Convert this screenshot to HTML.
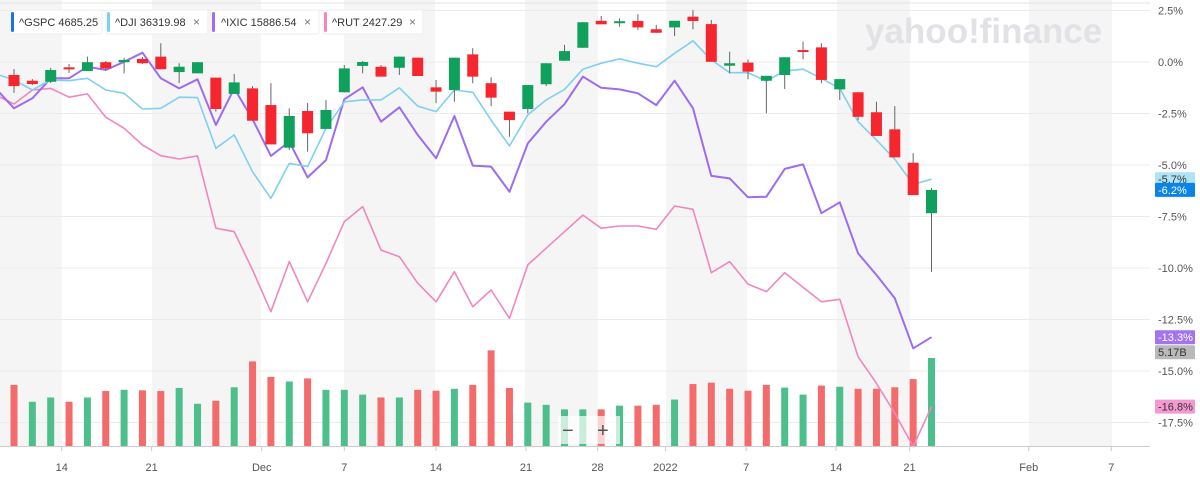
<!DOCTYPE html>
<html><head><meta charset="utf-8"><style>
html,body{margin:0;padding:0;background:#fff;}
body{width:1200px;height:477px;overflow:hidden;font-family:"Liberation Sans",sans-serif;}
svg text{font-family:"Liberation Sans",sans-serif;}
</style></head><body>
<svg id="chart" width="1200" height="477" viewBox="0 0 1200 477" xmlns="http://www.w3.org/2000/svg">
<g id="bands"></g><g id="grid"></g>
<text x="865" y="43" font-size="35" font-weight="bold" fill="#e2e2e6">yahoo!finance</text>
<g id="vol"></g><g id="lines"></g><g id="candles"></g><g id="axes"></g><g id="tags"></g>
<g>
 <g><rect x="10" y="10" width="92" height="24" rx="2" fill="#fff" stroke="#eee"/><rect x="11" y="12" width="3" height="20" rx="1.5" fill="#1a73e8"/><text x="19" y="26" font-size="11" fill="#333">^GSPC  4685.25</text></g>
 <g><rect x="106" y="10" width="102" height="24" rx="2" fill="#fff" stroke="#eee"/><rect x="107" y="12" width="3" height="20" rx="1.5" fill="#7fd0f0"/><text x="115" y="26" font-size="11" fill="#333">^DJI  36319.98</text><text x="193" y="26" font-size="12" fill="#777">×</text></g>
 <g><rect x="211" y="10" width="108" height="24" rx="2" fill="#fff" stroke="#eee"/><rect x="212" y="12" width="3" height="20" rx="1.5" fill="#9d6cf0"/><text x="221" y="26" font-size="11" fill="#333">^IXIC  15886.54</text><text x="304" y="26" font-size="12" fill="#777">×</text></g>
 <g><rect x="323" y="10" width="100" height="24" rx="2" fill="#fff" stroke="#eee"/><rect x="324" y="12" width="3" height="20" rx="1.5" fill="#ef87c0"/><text x="332" y="26" font-size="11" fill="#333">^RUT  2427.29</text><text x="409" y="26" font-size="12" fill="#777">×</text></g>
</g>
<g>
 <rect x="558" y="416" width="62" height="28" fill="#ffffff" opacity="0.7"/>
 <text x="562" y="437" font-size="20" fill="#555">−</text>
 <text x="597" y="437" font-size="20" fill="#555">+</text>
</g>
</svg>
<script>
const ticks=[2.5,0,-2.5,-5,-7.5,-10,-12.5,-15,-17.5];
const tickLabels=["2.5%","0.0%","-2.5%","-5.0%","-7.5%","-10.0%","-12.5%","-15.0%","-17.5%"];
const xLabels=["14","21","Dec","7","14","21","28","2022","7","14","21","Feb","7"];
const xLabelIdx=[2.6,7.5,13.5,18,23,27.9,31.8,35.5,39.9,44.8,48.8,55.3,59.8];
const gOpen=[-0.63,-0.91,-0.96,-0.26,-0.44,-0.01,-0.01,0.15,0.26,-0.49,-0.55,-0.76,-1.55,-1.28,-2.09,-4.16,-2.38,-3.25,-1.47,-0.19,-0.23,-0.28,0.21,-1.23,-1.36,0.37,-1.03,-2.41,-2.28,-1.08,0.06,0.69,2.00,1.91,1.99,1.59,1.68,2.20,1.84,-0.18,-0.03,-0.91,-0.63,0.58,0.71,-1.33,-1.47,-2.44,-3.27,-4.89,-7.34];
const gClose=[-1.17,-1.07,-0.39,-0.35,-0.01,-0.31,0.10,-0.06,-0.35,-0.23,-0.01,-2.28,-0.99,-2.85,-4.00,-2.62,-3.46,-2.33,-0.31,0.00,-0.71,0.26,-0.68,-1.44,0.21,-0.71,-1.73,-2.82,-1.12,-0.06,0.53,1.93,1.83,1.98,1.68,1.42,2.00,1.99,0.01,-0.06,-0.47,-0.67,0.23,0.49,-0.87,-0.83,-2.66,-3.59,-4.63,-6.46,-6.21];
const gHigh=[-0.34,-0.83,-0.29,-0.10,0.26,0.05,0.19,0.24,0.91,-0.06,0.00,-0.76,-0.58,-1.17,-1.03,-2.25,-1.99,-1.84,-0.15,0.05,-0.15,0.26,0.21,-0.87,0.21,0.67,-0.74,-2.41,-1.12,-0.06,0.83,1.93,2.23,2.12,2.32,1.80,2.00,2.52,2.04,0.50,0.13,-0.67,0.23,0.99,0.91,-0.83,-1.47,-1.93,-2.14,-4.43,-6.12];
const gLow=[-1.50,-1.12,-1.02,-0.53,-0.44,-0.39,-0.55,-0.10,-0.35,-1.03,-0.55,-2.41,-1.55,-2.86,-4.00,-4.27,-4.35,-3.25,-1.47,-0.55,-0.71,-0.63,-0.68,-2.00,-1.93,-1.03,-2.14,-3.63,-2.49,-1.17,0.06,0.69,1.83,1.71,1.55,1.42,1.26,1.59,0.01,-0.55,-0.84,-2.49,-1.31,0.13,-1.03,-1.84,-2.82,-3.59,-4.63,-6.46,-10.18];
// line series start one day before first candle (index -1)
const dji=[-0.58,-0.87,-1.36,-0.87,-0.91,-0.79,-1.36,-1.52,-2.28,-2.25,-1.71,-1.73,-4.19,-3.54,-5.33,-6.62,-4.92,-5.08,-3.22,-1.93,-1.84,-1.84,-1.25,-2.14,-2.41,-1.36,-1.47,-2.82,-4.08,-2.57,-1.84,-1.33,-0.35,-0.06,0.15,-0.06,-0.23,0.42,1.03,0.10,-0.52,-0.52,-0.92,-0.44,-0.35,-0.79,-1.28,-2.90,-3.79,-4.72,-5.94,-5.69];
const ixic=[-1.28,-2.25,-1.76,-0.79,-0.79,-0.23,-0.39,0.01,0.45,-0.79,-1.28,-0.84,-3.06,-1.28,-2.78,-4.56,-3.87,-5.60,-4.76,-1.81,-1.23,-2.90,-2.20,-3.54,-4.67,-2.62,-5.03,-5.08,-6.30,-3.95,-2.90,-2.05,-0.71,-1.25,-1.33,-1.52,-2.09,-0.91,-2.25,-5.53,-5.65,-6.57,-6.54,-5.19,-4.97,-7.34,-6.81,-9.29,-10.34,-11.47,-13.90,-13.36];
const rut=[-1.60,-2.04,-1.36,-1.28,-1.71,-1.55,-2.68,-3.22,-4.03,-4.55,-4.71,-4.56,-8.07,-8.24,-10.10,-12.12,-9.69,-11.64,-9.77,-7.75,-7.02,-9.13,-9.45,-10.74,-11.64,-10.18,-11.88,-11.07,-12.44,-9.85,-9.04,-8.24,-7.43,-8.07,-7.96,-7.96,-8.12,-6.99,-7.15,-10.23,-9.69,-10.78,-11.15,-10.23,-10.94,-11.64,-11.52,-14.31,-15.60,-17.05,-18.67,-16.73];
const volume=[3.59,2.60,2.85,2.60,2.85,3.23,3.30,3.27,3.23,3.41,2.48,2.66,3.45,4.97,4.06,3.79,3.97,3.30,3.30,3.02,2.85,2.85,3.30,3.25,3.36,3.59,5.62,3.41,2.55,2.42,2.15,2.15,2.15,2.37,2.37,2.42,2.73,3.64,3.72,3.36,3.25,3.59,3.43,3.02,3.55,3.48,3.36,3.36,3.45,3.93,5.17];
const volUp=[0,1,1,0,1,0,1,0,0,1,1,0,1,0,0,1,0,1,1,1,0,1,0,0,1,0,0,0,1,1,1,1,0,1,0,0,1,0,0,0,0,0,1,1,0,1,0,0,0,0,1];
const bandRanges=[[0,62],[152,261],[344,435],[525,598],[666,747],[837,910],[1029,1112]];

const NS="http://www.w3.org/2000/svg";
const X=i=>14+18.35*i;
const Y=v=>62-v*20.6;
const VB=446, VH=v=>v/5.17*88;
function mk(tag,attrs,parent){const e=document.createElementNS(NS,tag);for(const k in attrs)e.setAttribute(k,attrs[k]);document.getElementById(parent).appendChild(e);return e;}

bandRanges.forEach(r=>{const e=mk('rect',{x:r[0],y:0,width:r[1]-r[0],height:446,fill:'#f5f5f5'},'bands');

});
mk('line',{x1:0,x2:1150,y1:3,y2:3,stroke:'#e4e4e4'},'grid');
ticks.forEach((t,k)=>{const l=mk('line',{x1:0,x2:1150,y1:Y(t),y2:Y(t),stroke:'#ebebeb'},'grid');


const tx=mk('text',{x:1158,y:Y(t)+4,'font-size':11,fill:'#555'},'axes');tx.textContent=tickLabels[k];

});
const ax=mk('line',{x1:0,x2:1150,y1:VB+0.5,y2:VB+0.5,stroke:'#ccc'},'axes');


xLabels.forEach((s,k)=>{const x=X(xLabelIdx[k]);
mk('line',{x1:x,x2:x,y1:VB,y2:VB+5,stroke:'#ccc'},'axes');
const t=mk('text',{x:x,y:471,'font-size':11,fill:'#555','text-anchor':'middle'},'axes');t.textContent=s;

});

volume.forEach((v,i)=>{const h=VH(v);const r=mk('rect',{x:X(i)-3.5,y:VB-h,width:7,height:h,fill:volUp[i]?'#4cbf8a':'#f36b6b'},'vol');

});

function line(arr,color,w,name){const p=arr.map((v,k)=>(k?'L':'M')+X(k-1).toFixed(1)+','+Y(v).toFixed(1)).join('');
const e=mk('path',{d:p,fill:'none',stroke:color,'stroke-width':w,'stroke-linejoin':'round'},'lines');

}
line(rut,'#ef87c0',1.6,'rut-line');
line(ixic,'#9d6cf0',2,'ixic-line');
line(dji,'#7fd0f0',1.6,'dji-line');

gOpen.forEach((o,i)=>{const c=gClose[i],up=c>=o,col=up?'#0fa15c':'#f5262e';
const w=mk('line',{x1:X(i),x2:X(i),y1:Y(gHigh[i]),y2:Y(gLow[i]),stroke:'#666','stroke-width':1},'candles');


const top=Y(Math.max(o,c)),h=Math.max(2,Math.abs(Y(o)-Y(c)));
const b=mk('rect',{x:X(i)-5.5,y:top,width:11,height:h,fill:col},'candles');

});

function tag(v,y,txt,bg,fg,name){const r=mk('rect',{x:1155,y:y-7,width:40,height:14,fill:bg,rx:1},'tags');


const t=mk('text',{x:1158,y:y+4,'font-size':11,fill:fg},'tags');t.textContent=txt;}
tag(0,Y(dji[dji.length-1]),'-5.7%','#aee2f5','#333','dji-last-tag');
tag(0,Y(gClose[gClose.length-1]),'-6.2%','#0b84e8','#fff','gspc-last-tag');
tag(0,Y(ixic[ixic.length-1]),'-13.3%','#a374f0','#fff','ixic-last-tag');
tag(0,Y(ixic[ixic.length-1])+15,'5.17B','#b9b9b9','#333','volume-last-tag');
tag(0,Y(rut[rut.length-1]),'-16.8%','#f59ad0','#333','rut-last-tag');
</script>
</body></html>
